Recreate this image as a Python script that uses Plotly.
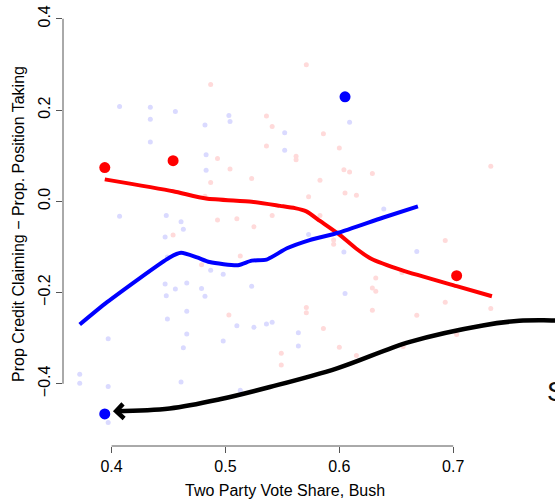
import plotly.graph_objects as go

# faint individual points
blue_x = [0.407,0.434,0.456,0.434,0.482,0.434,0.483,0.483,0.407,0.448,0.461,0.463,0.447,0.503,0.504,0.552,0.552,0.609,0.573,0.639,0.668,0.447,0.456,0.466,0.479,0.448,0.482,0.466,0.449,0.466,0.463,0.397,0.372,0.372,0.397,0.461,0.397,0.487,0.449,0.498,0.523,0.604,0.605,0.510,0.525,0.536,0.541,0.564,0.498,0.564,0.513]
blue_y = [0.208,0.206,0.197,0.180,0.167,0.130,0.102,0.068,-0.033,-0.031,-0.045,-0.061,-0.078,0.188,0.175,0.150,0.112,0.173,-0.073,-0.017,-0.110,-0.181,-0.192,-0.179,-0.191,-0.207,-0.208,-0.241,-0.258,-0.291,-0.321,-0.301,-0.379,-0.399,-0.406,-0.396,-0.485,-0.151,-0.122,-0.160,-0.186,-0.111,-0.202,-0.273,-0.276,-0.269,-0.265,-0.288,-0.306,-0.317,-0.414]
red_x = [0.487,0.493,0.487,0.482,0.493,0.454,0.571,0.536,0.541,0.586,0.536,0.600,0.562,0.562,0.504,0.604,0.609,0.523,0.583,0.605,0.615,0.573,0.510,0.541,0.525,0.583,0.595,0.595,0.629,0.733,0.693,0.479,0.513,0.503,0.571,0.571,0.586,0.549,0.549,0.600,0.615,0.632,0.629,0.632,0.655,0.693,0.629,0.668,0.733,0.703,0.656]
red_y = [0.256,0.094,0.041,0.011,-0.041,-0.074,0.299,0.187,0.164,0.148,0.121,0.117,0.099,0.091,0.071,0.069,0.064,0.050,0.046,0.018,0.013,0.010,-0.038,-0.031,-0.056,-0.031,-0.085,-0.094,0.061,0.077,-0.086,-0.139,-0.120,-0.249,-0.233,-0.244,-0.279,-0.333,-0.359,-0.320,-0.338,-0.168,-0.190,-0.197,-0.156,-0.221,-0.239,-0.250,-0.235,-0.292,-0.318]

# smoothed lines
red_line_x = [0.394,0.454,0.483,0.523,0.548,0.561,0.571,0.583,0.599,0.615,0.628,0.656,0.703,0.734]
red_line_y = [0.048,0.022,0.006,-0.001,-0.010,-0.015,-0.022,-0.043,-0.071,-0.104,-0.126,-0.152,-0.186,-0.208]
blue_line_x = [0.372,0.396,0.451,0.461,0.475,0.486,0.511,0.523,0.536,0.554,0.574,0.599,0.638,0.669]
blue_line_y = [-0.270,-0.221,-0.123,-0.113,-0.123,-0.133,-0.140,-0.130,-0.128,-0.103,-0.085,-0.069,-0.036,-0.011]

# highlighted points
big_red_x = [0.394,0.454,0.703]
big_red_y = [0.074,0.089,-0.163]
big_blue_x = [0.605,0.394]
big_blue_y = [0.229,-0.466]

# annotation arrow path
arrow_x = [0.404,0.451,0.495,0.539,0.598,0.662,0.726,0.758,0.789,0.83]
arrow_y = [-0.460,-0.454,-0.434,-0.407,-0.366,-0.308,-0.272,-0.262,-0.261,-0.261]
head_x = [0.410,0.404,0.411]
head_y = [-0.444,-0.460,-0.476]

x_ticks = [0.4,0.5,0.6,0.7]
y_ticks = [-0.4,-0.2,0.0,0.2,0.4]

FONT = "Liberation Sans, Arial, sans-serif"

fig = go.Figure()
fig.add_trace(go.Scatter(x=blue_x, y=blue_y, mode="markers",
                         marker=dict(size=5, color="#DADAFF"), hoverinfo="skip"))
fig.add_trace(go.Scatter(x=red_x, y=red_y, mode="markers",
                         marker=dict(size=5, color="#FFDADA"), hoverinfo="skip"))
fig.add_trace(go.Scatter(x=red_line_x, y=red_line_y, mode="lines",
                         line=dict(color="#FF0000", width=4, shape="spline", smoothing=0.6)))
fig.add_trace(go.Scatter(x=blue_line_x, y=blue_line_y, mode="lines",
                         line=dict(color="#0000FF", width=4, shape="spline", smoothing=0.6)))
fig.add_trace(go.Scatter(x=big_red_x, y=big_red_y, mode="markers",
                         marker=dict(size=11, color="#FF0000")))
fig.add_trace(go.Scatter(x=big_blue_x, y=big_blue_y, mode="markers",
                         marker=dict(size=11, color="#0000FF")))
fig.add_trace(go.Scatter(x=arrow_x, y=arrow_y, mode="lines",
                         line=dict(color="#000000", width=4.5, shape="spline")))
fig.add_trace(go.Scatter(x=head_x, y=head_y, mode="lines",
                         line=dict(color="#000000", width=4.5)))

# R-style axis lines spanning only the tick range
fig.add_shape(type="line", xref="x", yref="paper", x0=min(x_ticks), x1=max(x_ticks),
              y0=0, y1=0, line=dict(color="#555555", width=1))
fig.add_shape(type="line", xref="paper", yref="y", x0=0, x1=0,
              y0=min(y_ticks), y1=max(y_ticks), line=dict(color="#555555", width=1))

fig.add_annotation(x=0.451, y=-0.1007, xref="paper", yref="paper",
                   text="Two Party Vote Share, Bush", showarrow=False,
                   font=dict(family=FONT, size=16, color="#000000"),
                   xanchor="center", yanchor="middle")
fig.add_annotation(x=0.781, y=-0.419, xref="x", yref="y", text="S", showarrow=False,
                   font=dict(family=FONT, size=27, color="#111111"),
                   xanchor="left", yanchor="middle")

fig.update_layout(
    width=555, height=500,
    margin=dict(l=63, r=0, t=2, b=54, autoexpand=False),
    paper_bgcolor="white", plot_bgcolor="white",
    showlegend=False,
    font=dict(family=FONT, size=16, color="#000000"),
    xaxis=dict(range=[0.35732, 0.78939], tickvals=x_ticks, ticktext=[f"{v:.1f}" for v in x_ticks],
               showgrid=False, zeroline=False, showline=False, automargin=False,
               ticks="outside", ticklen=6, tickcolor="#555555", tickwidth=1,
               tickfont=dict(family=FONT, size=16)),
    yaxis=dict(range=[-0.5363, 0.4368], tickvals=y_ticks, ticktext=[f"{v:.1f}".replace("-", "\u2212") for v in y_ticks],
               showgrid=False, zeroline=False, showline=False, automargin=False,
               ticks="outside", ticklen=6, tickcolor="#555555", tickwidth=1,
               tickangle=-90, tickfont=dict(family=FONT, size=16),
               title=dict(text="Prop Credit Claiming \u2212 Prop. Position Taking",
                          font=dict(family=FONT, size=16), standoff=6)),
)

fig.write_html("out.html", config={"displayModeBar": False})

# remove the browser's default page margin so the figure sits at the window origin
with open("out.html", "r", encoding="utf-8") as f:
    html = f.read()
html = html.replace("<head>", "<head><style>html,body{margin:0;padding:0;overflow:hidden;}</style>", 1)
with open("out.html", "w", encoding="utf-8") as f:
    f.write(html)
